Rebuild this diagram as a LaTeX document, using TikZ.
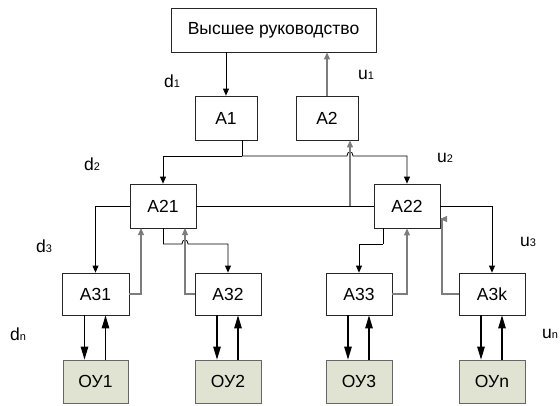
\documentclass[tikz,border=0pt]{standalone}
\usepackage{fontspec}
\setmainfont{Liberation Sans}
\usetikzlibrary{arrows.meta}
\definecolor{plantfill}{RGB}{224,227,209}
\definecolor{fbgray}{RGB}{125,125,125}
\tikzset{
  unit/.style={draw=black!85, line width=0.8pt, fill=white, inner sep=0pt,
    minimum height=44pt, font=\fontsize{17.5}{17.5}\selectfont},
  plant/.style={unit, fill=plantfill, draw=black!60, minimum height=43pt},
  cmd/.style={draw=black, line width=0.8pt, -{Triangle[length=7pt,width=6pt]}},
  rep/.style={draw=fbgray, line width=1.1pt, -{Triangle[length=7pt,width=6pt]}},
  plainline/.style={draw=black, line width=0.8pt},
  io/.style={draw=black, line width=1.1pt, -{Triangle[length=13pt,width=7.5pt]}},
  sig/.style={font=\fontsize{17.5}{17.5}\selectfont, inner sep=0pt}
}
\newcommand{\lab}[2]{#1{\fontsize{11}{11}\selectfont #2}}
\begin{document}
\begin{tikzpicture}[x=1pt,y=-1pt]
\useasboundingbox (0,0) rectangle (560,405);

% management hierarchy
\node[unit, minimum width=205pt] (top) at (273.5,30) {Высшее руководство};
\node[unit, minimum width=62pt] (A1) at (226,118) {А1};
\node[unit, minimum width=62pt] (A2) at (327,118) {А2};
\node[unit, minimum width=66pt] (A21) at (163,206) {А21};
\node[unit, minimum width=66pt] (A22) at (407,206) {А22};
\node[unit, minimum width=67pt, minimum height=42pt] (A31) at (95.5,294) {А31};
\node[unit, minimum width=66pt, minimum height=42pt] (A32) at (228,294) {А32};
\node[unit, minimum width=66pt, minimum height=42pt] (A33) at (359,294) {А33};
\node[unit, minimum width=66pt, minimum height=42pt] (A3k) at (492,294) {А3k};

% controlled objects
\node[plant, minimum width=65pt] (O1) at (95.5,381.5) {ОУ1};
\node[plant, minimum width=66pt] (O2) at (228,381.5) {ОУ2};
\node[plant, minimum width=66pt] (O3) at (359,381.5) {ОУ3};
\node[plant, minimum width=66pt] (On) at (492,381.5) {ОУn};

% signal labels
\node[sig] (d1) at (172,81) {\lab{d}{1}};
\node[sig] (u1) at (366,75) {\lab{u}{1}};
\node[sig] (d2) at (92,164) {\lab{d}{2}};
\node[sig] (u2) at (445,158) {\lab{u}{2}};
\node[sig] (d3) at (44,246) {\lab{d}{3}};
\node[sig] (u3) at (528,242) {\lab{u}{3}};
\node[sig] (dn) at (18,334) {\lab{d}{n}};
\node[sig] (un) at (550,334) {\lab{u}{n}};

% junction points
\coordinate (s1) at (242,156);
\coordinate (r1) at (350,206);
\coordinate (s2) at (163,244);
\coordinate (s3) at (383,244);

% top level
\draw[cmd] (top.south -| A1) -- (A1.north);
\draw[rep] (A2.north) -- (A2.north |- top.south);

% A1 distributes to A21 and A22
\draw[plainline] (A1.south -| s1) -- (s1);
\draw[cmd] (s1) -- (s1 -| A21) -- (A21.north);
\draw[cmd] (s1) -- (347,156) .. controls (347,150.5) and (353,150.5) .. (353,156)
  -- (s1 -| A22) -- (A22.north);

% A21 and A22 report to A2
\draw[plainline] (A21.east) -- (A22.west);
\draw[rep] (r1) -- (r1 |- A2.south);

% A21 to A31 and A32
\draw[cmd] (A21.west) -- (A21.west -| A31) -- (A31.north);
\draw[plainline] (A21.south) -- (s2);
\draw[cmd] (s2) -- (182,244) .. controls (182,238.5) and (188,238.5) .. (188,244)
  -- (s2 -| A32) -- (A32.north);
\draw[rep] (A31.east) -- (141,294) -- (141,228);
\draw[rep] (A32.west) -- (185,294) -- (185,228);

% A22 to A33 and A3k
\draw[plainline] (A22.south -| s3) -- (s3);
\draw[cmd] (s3) -- (s3 -| A33) -- (A33.north);
\draw[cmd] (A22.east) -- (A22.east -| A3k) -- (A3k.north);
\draw[rep] (A33.east) -- (A33.east -| A22) -- (A22.south);
\draw[rep] (A3k.west) -- (442,294) -- (442,219) -- (440,219);

% exchange with controlled objects
\foreach \a/\o in {A31/O1, A32/O2, A33/O3, A3k/On}{
  \draw[io] ([xshift=-11pt]\a.south) -- ([xshift=-11pt]\o.north);
  \draw[io] ([xshift=10pt]\o.north) -- ([xshift=10pt]\a.south);
}
\end{tikzpicture}
\end{document}
